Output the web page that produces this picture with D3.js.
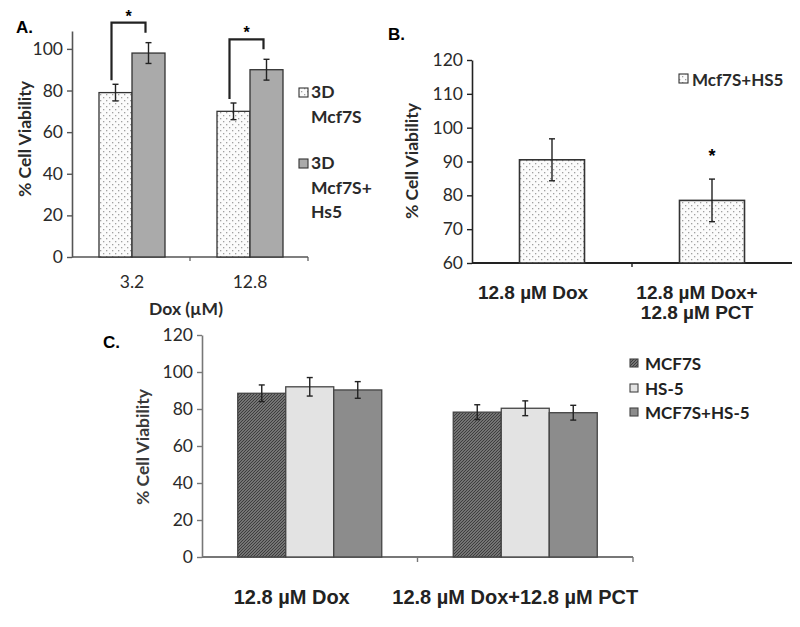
<!DOCTYPE html>
<html><head><meta charset="utf-8">
<script src="https://cdn.jsdelivr.net/npm/d3@7"></script>
<style>body{margin:0;background:#fff}svg{display:block}</style>
</head><body>
<script>
// ---------- DATA ----------
// Panel A
const catsA = ["3.2", "12.8"];
const seriesA = [["3D", "Mcf7S"], ["3D", "Mcf7S+", "Hs5"]];
const mcf7sA = [79, 70];
const mcf7sErrA = [4, 4];
const coA = [98, 90];
const coErrA = [5, 5];
const yTicksA = [0, 20, 40, 60, 80, 100];
// Panel B
const catsB = [["12.8 µM Dox"], ["12.8 µM Dox+", "12.8 µM PCT"]];
const seriesB = "Mcf7S+HS5";
const valsB = [90.5, 78.5];
const errB = [6.2, 6.3];
const yTicksB = [60, 70, 80, 90, 100, 110, 120];
// Panel C
const catsC = ["12.8 µM Dox", "12.8 µM Dox+12.8 µM PCT"];
const seriesC = ["MCF7S", "HS-5", "MCF7S+HS-5"];
const valsC = [[88.5, 92, 90.3], [78.3, 80.4, 78]];
const errC = [[4.5, 5, 4.5], [4, 4, 4]];
const yTicksC = [0, 20, 40, 60, 80, 100, 120];

// ---------- DRAW ----------
const W = 800, H = 627;
const svg = d3.select("body").append("svg").attr("width", W).attr("height", H);
const defs = svg.append("defs");

// dotted pattern
const dots = defs.append("pattern").attr("id", "dots").attr("patternUnits", "userSpaceOnUse")
  .attr("width", 6).attr("height", 6);
dots.append("rect").attr("width", 6).attr("height", 6).attr("fill", "#fbfbfb");
dots.append("rect").attr("x", 1).attr("y", 1).attr("width", 1.3).attr("height", 1.3).attr("fill", "#a0a0a0");
dots.append("rect").attr("x", 4).attr("y", 4).attr("width", 1.3).attr("height", 1.3).attr("fill", "#a0a0a0");
// hatch pattern
const hatch = defs.append("pattern").attr("id", "hatch").attr("patternUnits", "userSpaceOnUse")
  .attr("width", 3).attr("height", 3);
hatch.append("rect").attr("width", 3).attr("height", 3).attr("fill", "#8e8e8e");
hatch.append("path").attr("d", "M0,3 L3,0 M-1,1 L1,-1 M2,4 L4,2").attr("stroke", "#3a3a3a").attr("stroke-width", 1.2);

const tickFont = "Lato, 'Open Sans', sans-serif";
const boldFont = "'Liberation Sans', Arial, sans-serif";
const axisCol = "#555";
const barStroke = "#333";
const TICK_FS = 17.5;
const LAB_FS = 17.5;

function yAxis(g, y, ticks, x0, color) {
  const a = g.append("g").attr("transform", `translate(${x0},0)`)
    .call(d3.axisLeft(y).tickValues(ticks).tickSize(5).tickPadding(4).tickSizeOuter(0));
  a.select(".domain").attr("stroke", color).attr("stroke-width", 1.6);
  a.selectAll(".tick line").attr("stroke", color).attr("stroke-width", 1.4);
  a.selectAll(".tick text").attr("font-family", tickFont).attr("font-size", TICK_FS).attr("fill", "#2a2a2a");
  return a;
}
function errBar(g, cx, yTop, yBot, cap) {
  g.append("line").attr("x1", cx).attr("x2", cx).attr("y1", yTop).attr("y2", yBot).attr("stroke", "#222").attr("stroke-width", 1.4);
  g.append("line").attr("x1", cx - cap).attr("x2", cx + cap).attr("y1", yTop).attr("y2", yTop).attr("stroke", "#222").attr("stroke-width", 1.4);
  g.append("line").attr("x1", cx - cap).attr("x2", cx + cap).attr("y1", yBot).attr("y2", yBot).attr("stroke", "#222").attr("stroke-width", 1.4);
}

// ===== Panel A =====
(function () {
  const g = svg.append("g");
  const y = d3.scaleLinear().domain([0, 108.6]).range([257, 31]);
  const x = d3.scaleBand().domain(catsA).range([72, 308]).padding(0);
  const bw = 33;
  yAxis(g, y, yTicksA, 72, axisCol);
  g.append("line").attr("x1", 72).attr("x2", 308).attr("y1", y(0)).attr("y2", y(0)).attr("stroke", axisCol).attr("stroke-width", 1.6);
  [x(catsA[1]), 308].forEach(t => g.append("line").attr("x1", t).attr("x2", t).attr("y1", y(0)).attr("y2", y(0) + 4).attr("stroke", axisCol).attr("stroke-width", 1.2));
  catsA.forEach((c, i) => {
    const cx = x(c) + x.bandwidth() / 2 + 1;
    const x1 = cx - bw, x2 = cx;
    g.append("rect").attr("x", x1).attr("y", y(mcf7sA[i])).attr("width", bw).attr("height", y(0) - y(mcf7sA[i]))
      .attr("fill", "url(#dots)").attr("stroke", barStroke).attr("stroke-width", 1.3);
    g.append("rect").attr("x", x2).attr("y", y(coA[i])).attr("width", bw).attr("height", y(0) - y(coA[i]))
      .attr("fill", "#aaaaaa").attr("stroke", barStroke).attr("stroke-width", 1.3);
    errBar(g, x1 + bw / 2, y(mcf7sA[i] + mcf7sErrA[i]), y(mcf7sA[i] - mcf7sErrA[i]), 3);
    errBar(g, x2 + bw / 2, y(coA[i] + coErrA[i]), y(coA[i] - coErrA[i]), 3);
    const lx = x1 + bw / 2 - 4, rx = x2 + bw / 2 - 3;
    const topY = y(coA[i] + coErrA[i]) - 20;
    g.append("path").attr("d", `M${lx},${y(mcf7sA[i] + mcf7sErrA[i]) - 4} V${topY} H${rx} V${y(coA[i] + coErrA[i]) - 10}`)
      .attr("fill", "none").attr("stroke", "#222").attr("stroke-width", 2.2);
    g.append("text").attr("x", (lx + rx) / 2).attr("y", topY - 1).attr("text-anchor", "middle")
      .attr("font-family", boldFont).attr("font-weight", "bold").attr("font-size", 16).text("*");
    g.append("text").attr("x", cx).attr("y", 288).attr("text-anchor", "middle")
      .attr("font-family", tickFont).attr("font-size", TICK_FS).attr("fill", "#2a2a2a").text(c);
  });
  g.append("text").attr("x", 186).attr("y", 315).attr("text-anchor", "middle")
    .attr("font-family", tickFont).attr("font-weight", "bold").attr("font-size", LAB_FS).attr("fill", "#2a2a2a").text("Dox (µM)");
  g.append("text").attr("transform", "translate(31,139) rotate(-90)").attr("text-anchor", "middle")
    .attr("font-family", tickFont).attr("font-weight", "bold").attr("font-size", LAB_FS).attr("fill", "#2a2a2a").text("% Cell Viability");
  g.append("text").attr("x", 16).attr("y", 33).attr("font-family", boldFont).attr("font-weight", "bold").attr("font-size", 17).text("A.");
  const fills = ["url(#dots)", "#aaaaaa"];
  const legY = [88, 159];
  seriesA.forEach((lines, i) => {
    g.append("rect").attr("x", 299).attr("y", legY[i]).attr("width", 9).attr("height", 9)
      .attr("fill", fills[i]).attr("stroke", barStroke).attr("stroke-width", 1.1);
    lines.forEach((t, j) => g.append("text").attr("x", 311).attr("y", legY[i] + 10 + j * 24.5)
      .attr("font-family", tickFont).attr("font-weight", "bold").attr("font-size", LAB_FS).attr("fill", "#2a2a2a").text(t));
  });
})();

// ===== Panel B =====
(function () {
  const g = svg.append("g");
  const y = d3.scaleLinear().domain([60, 120]).range([263, 60]);
  const x = d3.scaleBand().domain([0, 1]).range([472, 792]).padding(0);
  const bw = 65;
  yAxis(g, y, yTicksB, 472, "#222");
  g.append("line").attr("x1", 472).attr("x2", 792).attr("y1", y(60)).attr("y2", y(60)).attr("stroke", "#222").attr("stroke-width", 1.8);
  g.append("line").attr("x1", x(1)).attr("x2", x(1)).attr("y1", y(60)).attr("y2", y(60) + 4).attr("stroke", "#222").attr("stroke-width", 1.4);
  valsB.forEach((v, i) => {
    const cx = x(i) + x.bandwidth() / 2;
    g.append("rect").attr("x", cx - bw / 2).attr("y", y(v)).attr("width", bw).attr("height", y(60) - y(v))
      .attr("fill", "url(#dots)").attr("stroke", barStroke).attr("stroke-width", 1.6);
    errBar(g, cx, y(v + errB[i]), y(v - errB[i]), 3);
    catsB[i].forEach((t, j) => g.append("text").attr("x", cx - (i === 0 ? 19 : 15)).attr("y", 299 + j * 20).attr("text-anchor", "middle")
      .attr("font-family", boldFont).attr("font-weight", "bold").attr("font-size", 19).attr("fill", "#222").text(t));
  });
  g.append("text").attr("x", x(1) + x.bandwidth() / 2).attr("y", 162).attr("text-anchor", "middle")
    .attr("font-family", boldFont).attr("font-weight", "bold").attr("font-size", 18).text("*");
  g.append("text").attr("transform", "translate(418,161) rotate(-90)").attr("text-anchor", "middle")
    .attr("font-family", tickFont).attr("font-weight", "bold").attr("font-size", LAB_FS).attr("fill", "#2a2a2a").text("% Cell Viability");
  g.append("text").attr("x", 388).attr("y", 40).attr("font-family", boldFont).attr("font-weight", "bold").attr("font-size", 17).text("B.");
  g.append("rect").attr("x", 679).attr("y", 74).attr("width", 9).attr("height", 9)
    .attr("fill", "url(#dots)").attr("stroke", barStroke).attr("stroke-width", 1.1);
  g.append("text").attr("x", 692).attr("y", 86).attr("font-family", tickFont).attr("font-weight", "bold")
    .attr("font-size", 17).attr("fill", "#2a2a2a").text(seriesB);
})();

// ===== Panel C =====
(function () {
  const g = svg.append("g");
  const y = d3.scaleLinear().domain([0, 120]).range([557, 335]);
  const x = d3.scaleBand().domain(catsC).range([202, 633]).padding(0);
  const bw = 48;
  const fills = ["url(#hatch)", "#e3e3e3", "#8c8c8c"];
  yAxis(g, y, yTicksC, 202, "#777");
  g.append("line").attr("x1", 202).attr("x2", 633).attr("y1", y(0)).attr("y2", y(0)).attr("stroke", "#777").attr("stroke-width", 1.8);
  [x(catsC[1]), 633].forEach(t => g.append("line").attr("x1", t).attr("x2", t).attr("y1", y(0)).attr("y2", y(0) + 5).attr("stroke", "#777").attr("stroke-width", 1.4));
  catsC.forEach((c, i) => {
    const cx = x(c) + x.bandwidth() / 2;
    valsC[i].forEach((v, k) => {
      const bx = cx - 1.5 * bw + k * bw;
      g.append("rect").attr("x", bx).attr("y", y(v)).attr("width", bw).attr("height", y(0) - y(v))
        .attr("fill", fills[k]).attr("stroke", "#444").attr("stroke-width", 1.3);
      errBar(g, bx + bw / 2, y(v + errC[i][k]), y(v - errC[i][k]), 3);
    });
    g.append("text").attr("x", cx - (i === 0 ? 18 : 10)).attr("y", 604).attr("text-anchor", "middle")
      .attr("font-family", boldFont).attr("font-weight", "bold").attr("font-size", 20).attr("fill", "#222").text(c);
  });
  g.append("text").attr("transform", "translate(149,447) rotate(-90)").attr("text-anchor", "middle")
    .attr("font-family", tickFont).attr("font-weight", "bold").attr("font-size", LAB_FS).attr("fill", "#3a3a3a").text("% Cell Viability");
  g.append("text").attr("x", 103).attr("y", 348).attr("font-family", boldFont).attr("font-weight", "bold").attr("font-size", 17).text("C.");
  const legY = [359, 384, 408];
  seriesC.forEach((s, k) => {
    g.append("rect").attr("x", 630).attr("y", legY[k]).attr("width", 8).attr("height", 8)
      .attr("fill", fills[k]).attr("stroke", "#444").attr("stroke-width", 1.1);
    g.append("text").attr("x", 645).attr("y", legY[k] + 11).attr("font-family", tickFont).attr("font-weight", "bold")
      .attr("font-size", 17).attr("fill", "#222").text(s);
  });
})();
</script>
</body></html>
